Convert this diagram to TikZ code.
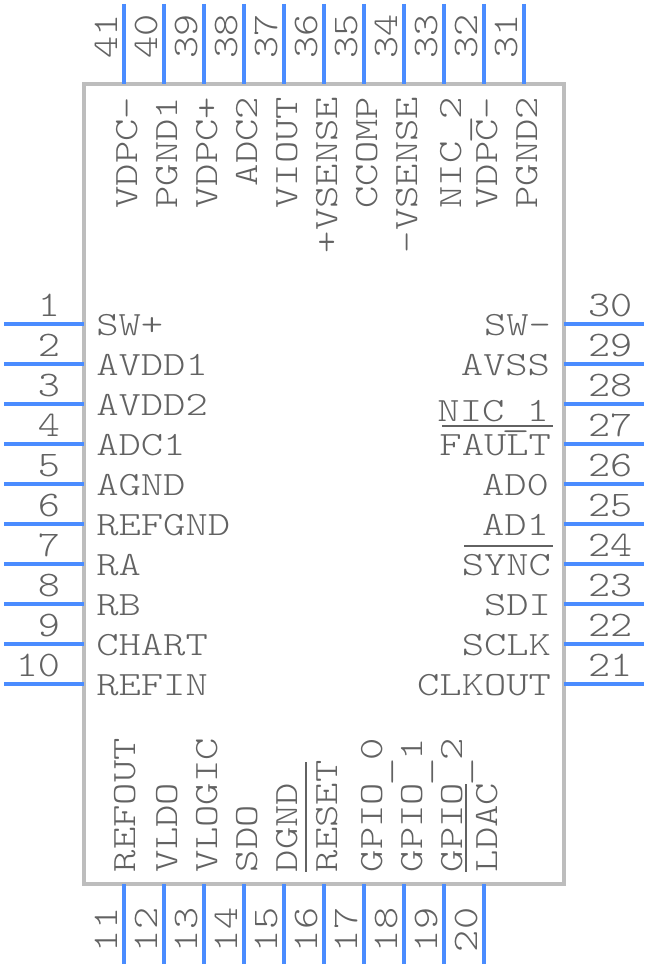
\documentclass[tikz,border=0pt]{standalone}
\usepackage{fontspec}
\setmonofont{Latin Modern Mono Light}[FakeStretch=1.25]
\newfontfamily\numfont{Latin Modern Mono Light}[FakeStretch=1.17]
\definecolor{pinblue}{HTML}{4A8CFF}
\definecolor{bodygray}{HTML}{BDBDBD}
\definecolor{textgray}{HTML}{626262}
\newcommand{\lowus}{\raisebox{-5pt}{\makebox[22.3pt][c]{\scalebox{1.3}[1]{\_}}}}
\tikzset{
  pinline/.style={draw=pinblue,line width=4pt},
  bodybox/.style={draw=bodygray,line width=4pt},
  overbar/.style={draw=textgray,line width=1.3pt},
  lbl/.style={inner sep=0pt,outer sep=0pt,text=textgray,font=\fontsize{34}{34}\selectfont\ttfamily},
  numlbl/.style={inner sep=0pt,outer sep=0pt,text=textgray,font=\fontsize{36}{36}\selectfont\numfont},
}
\begin{document}
\begin{tikzpicture}[x=1pt,y=-1pt]
\useasboundingbox (0,0) rectangle (648,968);
\draw[bodybox] (84,84) rectangle (564,884);
% left and right pins
\foreach \n/\y/\t in {1/324/SW+,2/364/AVDD1,3/404/AVDD2,4/444/ADC1,5/484/AGND,6/524/REFGND,7/564/RA,8/604/RB,9/644/CHART,10/684/REFIN}{
  \coordinate (pa\n) at (4,\y);
  \coordinate (pb\n) at (84,\y);
  \draw[pinline] (pa\n) -- (pb\n);
  \node[numlbl,anchor=base east] (num\n) at (60,\y-8) {\n};
  \node[lbl,anchor=base west] (name\n) at (96.3,\y+11) {\t};
}
\foreach \n/\y/\b/\e/\t in {30/324/335/551/SW-,29/364/375/550/AVSS,28/404/421/549/NIC\lowus 1,27/444/455/551/FAULT,26/484/495/549/AD0,25/524/535/549/AD1,24/564/575/551/SYNC,23/604/615/551/SDI,22/644/655/551/SCLK,21/684/695/551/CLKOUT}{
  \coordinate (pa\n) at (564,\y);
  \coordinate (pb\n) at (644,\y);
  \draw[pinline] (pa\n) -- (pb\n);
  \node[numlbl,anchor=base west] (num\n) at (588,\y-8) {\n};
  \node[lbl,anchor=base east] (name\n) at (\e,\b) {\t};
}
% top pins
\foreach \n/\x/\b/\t in {41/124/137/VDPC-,40/164/177/PGND1,39/204/217/VDPC+,38/244/257/ADC2,37/284/297/VIOUT,36/324/337/+VSENSE,35/364/377/CCOMP,34/404/417/-VSENSE,33/444/461/NIC\lowus 2,32/484/497/VDPC-,31/524/537/PGND2}{
  \coordinate (pa\n) at (\x,4);
  \coordinate (pb\n) at (\x,84);
  \draw[pinline] (pa\n) -- (pb\n);
  \node[numlbl,anchor=base west,rotate=90] (num\n) at (\x-7,59) {\n};
  \node[lbl,anchor=base east,rotate=90] (name\n) at (\b,97) {\t};
}
% bottom pins
\foreach \n/\x/\b/\t in {11/124/135/REFOUT,12/164/177/VLDO,13/204/217/VLOGIC,14/244/257/SDO,15/284/297/DGND,16/324/337/RESET,17/364/382/GPIO\lowus 0,18/404/422/GPIO\lowus 1,19/444/462/GPIO\lowus 2,20/484/497/LDAC}{
  \coordinate (pa\n) at (\x,884);
  \coordinate (pb\n) at (\x,964);
  \draw[pinline] (pa\n) -- (pb\n);
  \node[numlbl,anchor=base west,rotate=90] (num\n) at (\x-7,952) {\n};
  \node[lbl,anchor=base west,rotate=90] (name\n) at (\b,872) {\t};
}
% overbars
\draw[overbar] (442,426) -- (553,426);
\draw[overbar] (464,546) -- (553,546);
\draw[overbar] (306,762) -- (306,872);
\draw[overbar] (466,784) -- (466,872);
\end{tikzpicture}
\end{document}
